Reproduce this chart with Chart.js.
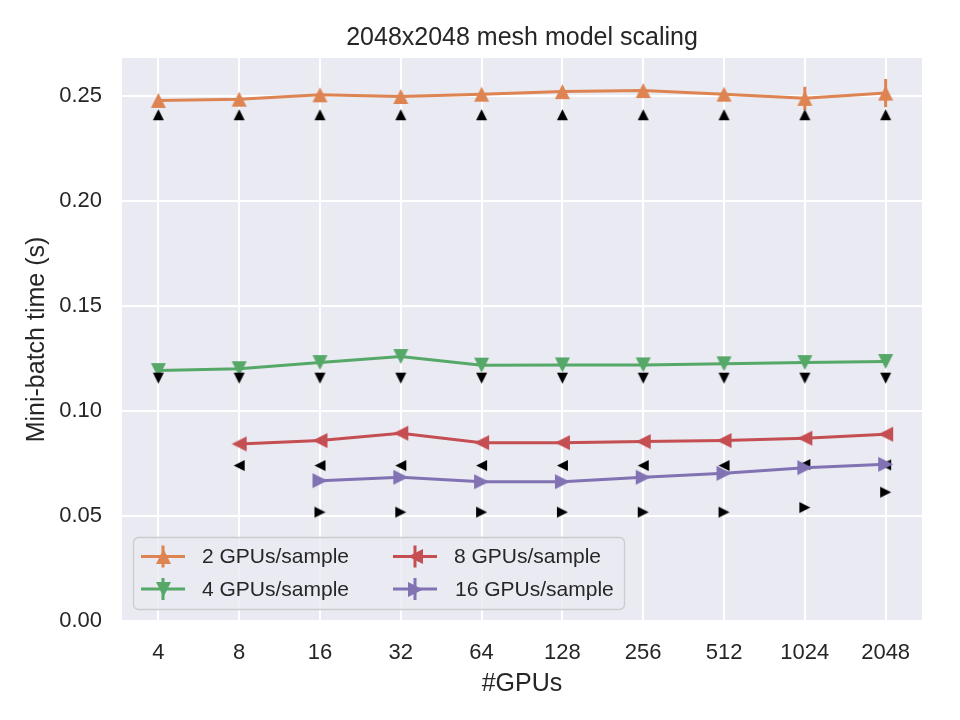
<!DOCTYPE html>
<html><head><meta charset="utf-8">
<script src="https://cdn.jsdelivr.net/npm/chart.js@4.4.0/dist/chart.umd.min.js"></script>
<style>html,body{margin:0;padding:0;background:#fff}#wrap{width:960px;height:720px}</style>
</head><body><div id="wrap"><canvas id="c" width="960" height="720"></canvas></div>
<script>
// ---- data ----
const gpuLabels = ['4','8','16','32','64','128','256','512','1024','2048'];
const yTickValues = [0, 0.05, 0.10, 0.15, 0.20, 0.25];
const seriesLabels = ['2 GPUs/sample','4 GPUs/sample','8 GPUs/sample','16 GPUs/sample'];
const time2  = [0.2478,0.2484,0.2505,0.2497,0.2508,0.2520,0.2525,0.2508,0.2488,0.2513];
const err2   = [0,0,0,0,0,0,0,0.0012,0.0055,0.0067];
const time4  = [0.1192,0.1201,0.1230,0.1259,0.1218,0.1219,0.1219,0.1224,0.1230,0.1235];
const time8  = [null,0.0843,0.0859,0.0894,0.0849,0.0849,0.0854,0.0859,0.0870,0.0889];
const time16 = [null,null,0.0668,0.0684,0.0663,0.0663,0.0684,0.0703,0.0730,0.0746];
const pred2  = [0.2410,0.2410,0.2410,0.2410,0.2410,0.2410,0.2410,0.2410,0.2410,0.2410];
const pred4  = [0.1156,0.1156,0.1156,0.1156,0.1156,0.1156,0.1156,0.1156,0.1156,0.1156];
const pred8  = [null,0.0740,0.0740,0.0740,0.0740,0.0740,0.0740,0.0740,0.0745,0.0743];
const pred16 = [null,null,0.0518,0.0518,0.0518,0.0518,0.0518,0.0518,0.0540,0.0613];

// ---- styles ----
const COLORS = ['#DD8452','#55A868','#C44E52','#8172B3'];
const DIRS = [0, Math.PI, -Math.PI/2, Math.PI/2]; // up, down, left, right
const TXT = '#262626';
const FAM = '"Liberation Sans", Arial, sans-serif';

function tri(size, color, ang) {
  const c = document.createElement('canvas');
  const s = Math.ceil(size) + 3 - ((Math.ceil(size)+3) % 2);
  c.width = c.height = s + 1;
  const g = c.getContext('2d');
  const h = size / 2, m = (s + 1) / 2;
  g.translate(m, m); g.rotate(ang);
  g.beginPath(); g.moveTo(0, -h); g.lineTo(h, h); g.lineTo(-h, h); g.closePath();
  g.fillStyle = color; g.fill();
  return c;
}
const bigMarks = COLORS.map((c,i) => tri(15, c, DIRS[i]));
const smallMarks = DIRS.map(a => tri(11, '#000', a));

const toXY = arr => arr.map((v,i) => ({x:i, y:v}));
const times = [time2, time4, time8, time16];
const preds = [pred2, pred4, pred8, pred16];
const errs = [err2, null, null, null];

const datasets = [];
for (let i = 0; i < 4; i++) {
  datasets.push({
    label: seriesLabels[i], data: toXY(times[i]), errors: errs[i],
    borderColor: COLORS[i], backgroundColor: COLORS[i], borderWidth: 3,
    pointStyle: bigMarks[i], pointRadius: 7, tension: 0, showLine: true,
    order: 8 - 2*i
  });
  datasets.push({
    label: 'pred ' + seriesLabels[i], data: toXY(preds[i]),
    borderColor: '#000', backgroundColor: '#000', showLine: false,
    pointStyle: smallMarks[i], pointRadius: 5, order: 7 - 2*i
  });
}

const bgPlugin = {
  id: 'bg',
  beforeDraw(chart) {
    const {ctx, chartArea: a} = chart;
    ctx.save();
    ctx.fillStyle = '#fff'; ctx.fillRect(0, 0, chart.width, chart.height);
    ctx.fillStyle = '#EAEAF2'; ctx.fillRect(a.left, a.top, a.right - a.left, a.bottom - a.top);
    ctx.restore();
  }
};

const errPlugin = {
  id: 'errbars',
  beforeDatasetDraw(chart, args) {
    const ds = chart.data.datasets[args.index];
    if (!ds.errors) return;
    const {ctx, chartArea: a} = chart;
    const xs = chart.scales.x, ys = chart.scales.y;
    ctx.save();
    ctx.beginPath(); ctx.rect(a.left, a.top, a.right - a.left, a.bottom - a.top); ctx.clip();
    ctx.strokeStyle = ds.borderColor; ctx.lineWidth = 3;
    ds.data.forEach((p, i) => {
      const e = ds.errors[i];
      if (p.y == null || !e) return;
      const x = xs.getPixelForValue(p.x);
      ctx.beginPath();
      ctx.moveTo(x, ys.getPixelForValue(p.y - e));
      ctx.lineTo(x, ys.getPixelForValue(p.y + e));
      ctx.stroke();
    });
    ctx.restore();
  }
};

const legendPlugin = {
  id: 'innerLegend',
  afterDraw(chart) {
    const {ctx, chartArea: a} = chart;
    const bx = a.left + 11, by = a.bottom - 84, bw = 491, bh = 72;
    ctx.save();
    ctx.beginPath();
    ctx.roundRect(bx + 0.5, by + 0.5, bw, bh, 5);
    ctx.fillStyle = 'rgba(234,234,242,0.8)'; ctx.fill();
    ctx.strokeStyle = '#CCCCCC'; ctx.lineWidth = 1.3; ctx.stroke();
    const cols = [bx + 8, bx + 260];
    const rows = [by + 19.5, by + 52];
    ctx.font = '21px ' + FAM; ctx.fillStyle = TXT; ctx.textBaseline = 'middle'; ctx.textAlign = 'left';
    const order = [0, 1, 2, 3];
    order.forEach((si) => {
      const cx = cols[Math.floor(si / 2)], cy = rows[si % 2];
      ctx.strokeStyle = COLORS[si]; ctx.lineWidth = 3;
      ctx.beginPath(); ctx.moveTo(cx, cy); ctx.lineTo(cx + 44, cy); ctx.stroke();
      ctx.beginPath(); ctx.moveTo(cx + 22, cy - 11); ctx.lineTo(cx + 22, cy + 11); ctx.stroke();
      const img = bigMarks[si];
      ctx.drawImage(img, Math.round(cx + 22 - img.width / 2), Math.round(cy - img.height / 2));
      ctx.fillStyle = TXT;
      ctx.fillText(seriesLabels[si], cx + 61 + (si === 3 ? 1 : 0), cy + 1);
    });
    ctx.restore();
  }
};

new Chart(document.getElementById('c'), {
  type: 'line',
  data: { datasets },
  options: {
    responsive: false, animation: false,
    layout: { padding: { top: 10, right: 38, left: 0, bottom: 0 } },
    plugins: {
      legend: { display: false },
      tooltip: { enabled: false },
      title: {
        display: true, text: '2048x2048 mesh model scaling', fullSize: false,
        color: TXT, font: { family: FAM, size: 25, weight: 'normal', lineHeight: 1.2 },
        padding: { top: 13, bottom: 5 }
      }
    },
    scales: {
      x: {
        type: 'linear', min: -0.45, max: 9.45,
        afterBuildTicks: s => { s.ticks = gpuLabels.map((_, i) => ({ value: i })); },
        afterFit: s => { s.height = 99; },
        ticks: { callback: v => gpuLabels[Math.round(v)], color: TXT, font: { family: FAM, size: 22 }, padding: 19, maxRotation: 0, autoSkip: false },
        grid: { color: '#ffffff', lineWidth: 2, drawTicks: false },
        border: { display: false },
        title: { display: true, text: '#GPUs', color: TXT, font: { family: FAM, size: 25, lineHeight: 1.2 }, padding: { top: 0, bottom: 21 } }
      },
      y: {
        min: 0, max: 0.268,
        afterBuildTicks: s => { s.ticks = yTickValues.map(v => ({ value: v })); },
        afterFit: s => { s.width = 122; },
        ticks: { callback: v => Number(v).toFixed(2), color: TXT, font: { family: FAM, size: 22 }, padding: 20 },
        grid: { color: '#ffffff', lineWidth: 2, drawTicks: false },
        border: { display: false },
        title: { display: true, text: 'Mini-batch time (s)', color: TXT, font: { family: FAM, size: 25, lineHeight: 1.2 }, padding: { top: 22, bottom: 0 } }
      }
    }
  },
  plugins: [bgPlugin, errPlugin, legendPlugin]
});
</script></body></html>
